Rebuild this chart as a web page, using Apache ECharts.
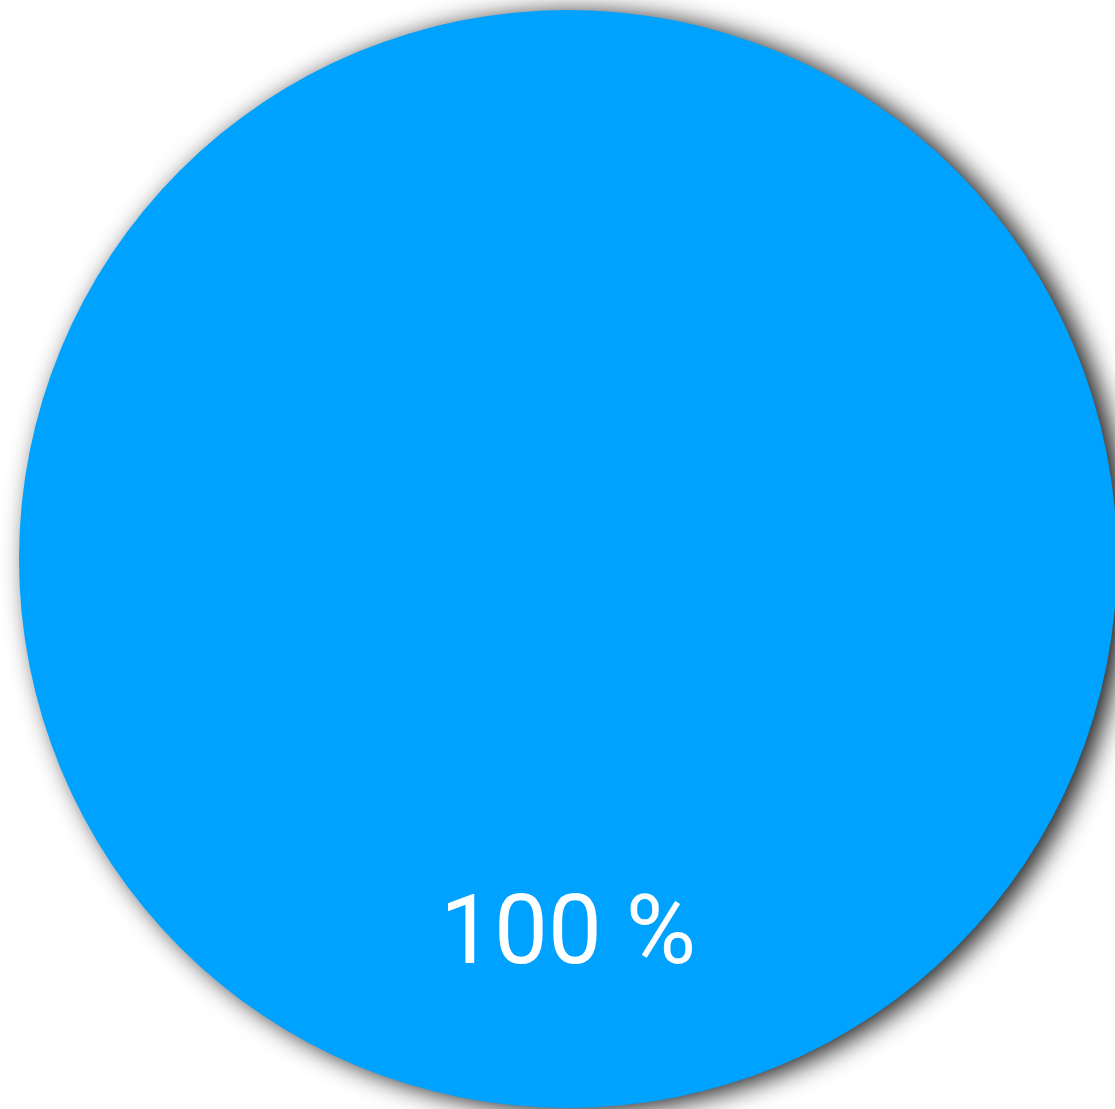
<!DOCTYPE html>
<html>
<head>
<meta charset="utf-8">
<script src="https://cdn.jsdelivr.net/npm/echarts@6/dist/echarts.min.js"></script>
<style>
  html, body { margin: 0; padding: 0; background: #fff; }
  #chart { width: 1115px; height: 1109px; }
</style>
</head>
<body>
<div id="chart"></div>
<script>
const names = ['A']
const values = [100]
const colors = ['#00A2FF']

const chart = echarts.init(document.getElementById('chart'), null, { renderer: 'canvas' })

chart.setOption({
  animation: false,
  backgroundColor: '#ffffff',
  series: [{
    type: 'pie',
    center: [568, 559],
    radius: [0, 549],
    startAngle: 90,
    clockwise: true,
    itemStyle: {
      shadowBlur: 26,
      shadowOffsetX: 10,
      shadowOffsetY: 3,
      shadowColor: 'rgba(0, 0, 0, 0.9)',
    },
    label: {
      show: true,
      position: 'inside',
      formatter: (p) => Math.round(p.percent) + ' %',
      color: '#ffffff',
      fontFamily: 'Roboto',
      fontWeight: 'normal',
      fontSize: 96,
      offset: [0, 102],
    },
    labelLine: { show: false },
    data: names.map((n, i) => ({ name: n, value: values[i], itemStyle: { color: colors[i] } })),
  }],
})
</script>
</body>
</html>
